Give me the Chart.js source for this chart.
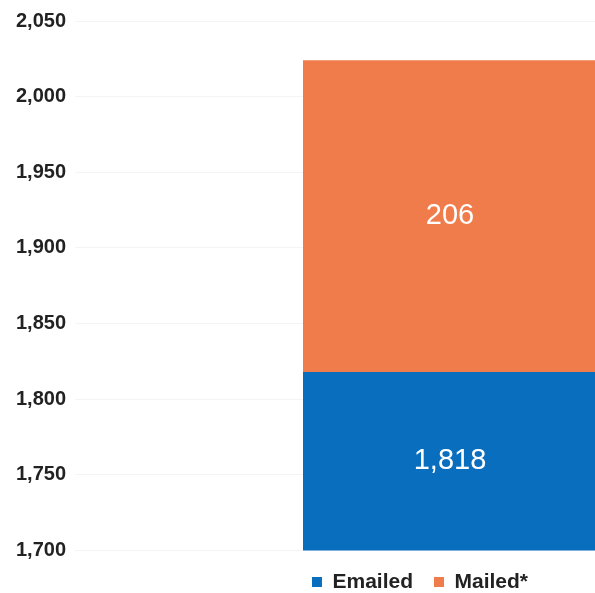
<!DOCTYPE html>
<html>
<head>
<meta charset="utf-8">
<script src="https://cdn.jsdelivr.net/npm/chart.js@4/dist/chart.umd.min.js"></script>
<style>
    body { margin: 0; background: #fff; }
    #wrap { width: 595px; height: 593px; overflow: hidden; }
</style>
</head>
<body>
<div id="wrap">
    <canvas id="surveyChart" width="856" height="593"></canvas>
</div>
<script>
// Survey invitations, split by how they were sent
let categories = ['Invitations'];
let emailed = [1818];
let mailed = [206];
let yTicks = [1700, 1750, 1800, 1850, 1900, 1950, 2000, 2050];

let fontFamily = "'Liberation Sans', Arial, sans-serif";

// Writes each bar's value in the middle of the visible part of its segment
const barValues = {
    id: 'barValues',
    afterDatasetsDraw(chart) {
        let ctx = chart.ctx;
        let area = chart.chartArea;
        ctx.save();
        ctx.fillStyle = '#ffffff';
        ctx.font = '29px ' + fontFamily;
        ctx.textAlign = 'center';
        ctx.textBaseline = 'middle';
        chart.data.datasets.forEach((ds, i) => {
            chart.getDatasetMeta(i).data.forEach((bar, j) => {
                let top = Math.max(bar.y, area.top);
                let bottom = Math.min(bar.base, area.bottom);
                ctx.fillText(ds.data[j].toLocaleString('en-US'), bar.x, (top + bottom) / 2);
            });
        });
        ctx.restore();
    }
};

var ctx = document.getElementById('surveyChart');
var myChart = new Chart(ctx, {
    type: 'bar',
    data: {
        labels: categories,
        datasets: [{
            label: 'Emailed',
            data: emailed,
            backgroundColor: '#0a6ebf'
        }, {
            label: 'Mailed*',
            data: mailed,
            backgroundColor: '#f07c4b'
        }]
    },
    options: {
        responsive: false,
        animation: false,
        layout: {
            padding: { top: 20, right: 31, bottom: -9.5, left: 15 }
        },
        datasets: {
            bar: {
                barPercentage: 0.392,
                categoryPercentage: 1
            }
        },
        plugins: {
            tooltip: { enabled: false },
            legend: {
                position: 'bottom',
                labels: {
                    boxWidth: 10,
                    boxHeight: 10,
                    padding: 21,
                    color: '#222',
                    font: { family: fontFamily, size: 21, weight: 'bold' }
                }
            }
        },
        scales: {
            x: {
                stacked: true,
                display: false
            },
            y: {
                stacked: true,
                min: yTicks[0],
                max: yTicks[yTicks.length - 1],
                afterFit: (scale) => { scale.width = 60; },
                afterBuildTicks: (scale) => {
                    scale.ticks = yTicks.map(v => ({ value: v }));
                },
                border: { display: false },
                grid: {
                    color: '#f4f4f4',
                    drawTicks: false
                },
                ticks: {
                    padding: 9,
                    color: '#222',
                    font: { family: fontFamily, size: 20, weight: 'bold' },
                    callback: (v) => v.toLocaleString('en-US')
                }
            }
        }
    },
    plugins: [barValues]
});
</script>
</body>
</html>
